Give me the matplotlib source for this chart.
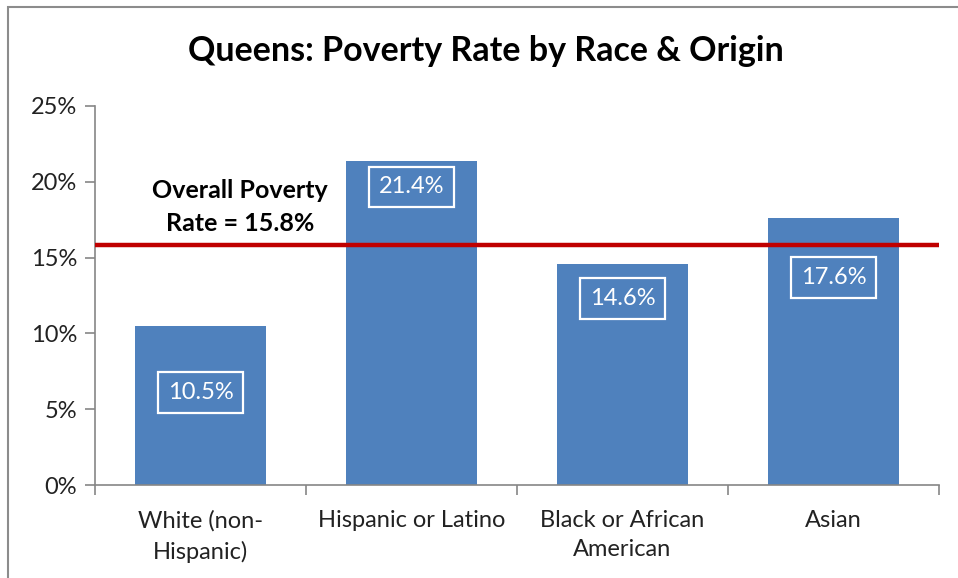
import matplotlib
matplotlib.use("Agg")
import matplotlib.pyplot as plt
from matplotlib.patches import Rectangle

categories = ["White (non-\nHispanic)", "Hispanic or Latino", "Black or African\nAmerican", "Asian"]
values = [10.5, 21.4, 14.6, 17.6]
overall = 15.8
yticks = [0, 5, 10, 15, 20, 25]
title = "Queens: Poverty Rate by Race & Origin"

# label offsets below bar tops (points), style only
label_offsets = [-48, -19, -25, -43]

FONT = "Lato"
plt.rcParams['font.family'] = [FONT, 'DejaVu Sans']

fig = plt.figure(figsize=(9.58, 5.78), dpi=100)
ax = fig.add_axes([95/958, 1-485/578, (939-95)/958, (485-106)/578])

bar_color = "#4F81BD"
x = list(range(len(values)))
ax.bar(x, values, width=0.62, color=bar_color, zorder=2)
ax.set_xlim(-0.5, len(values)-0.5)
ax.set_ylim(0, 25)
ax.axhline(overall, color="#C00000", lw=3.2, zorder=3)

for xi, v, off in zip(x, values, label_offsets):
    ax.annotate(f"{v:.1f}%", (xi, v), xytext=(0, off), textcoords="offset points",
                ha="center", va="center", color="white", fontsize=17,
                bbox=dict(boxstyle="square,pad=0.42", fc=bar_color, ec="white", lw=1.6),
                zorder=4)

ax.text(0.187, 18.35, f"Overall Poverty\nRate = {overall}%", ha="center", va="center",
        fontsize=18, fontweight="bold", color="black", linespacing=1.55, zorder=4)

ax.set_yticks(yticks)
ax.set_yticklabels([f"{t}%" for t in yticks], fontsize=17, color="#222222")
ax.set_xticks([i - 0.5 for i in range(len(values)+1)], minor=False)
ax.set_xticklabels([])
ax.set_xticks(x, minor=True)
ax.set_xticklabels(categories, minor=True, fontsize=17, color="#222222", linespacing=1.5, va="top")
ax.tick_params(axis="x", which="minor", length=0, pad=18)
ax.tick_params(axis="x", which="major", length=7, color="#868686", width=1.2)
ax.tick_params(axis="y", length=7, color="#868686", width=1.2, pad=6)

for s in ["top", "right"]:
    ax.spines[s].set_visible(False)
for s in ["left", "bottom"]:
    ax.spines[s].set_color("#868686")
    ax.spines[s].set_linewidth(1.2)

fig.text(486/958, 1-51/578, title, ha="center", va="center", fontsize=24.5, fontweight="bold")

fig.patches.append(Rectangle((8/958, -0.1), 1.2, 1-7/578+0.1, transform=fig.transFigure,
                             fill=False, ec="#8C8C8C", lw=1.5))

fig.savefig("out.png", dpi=100)
